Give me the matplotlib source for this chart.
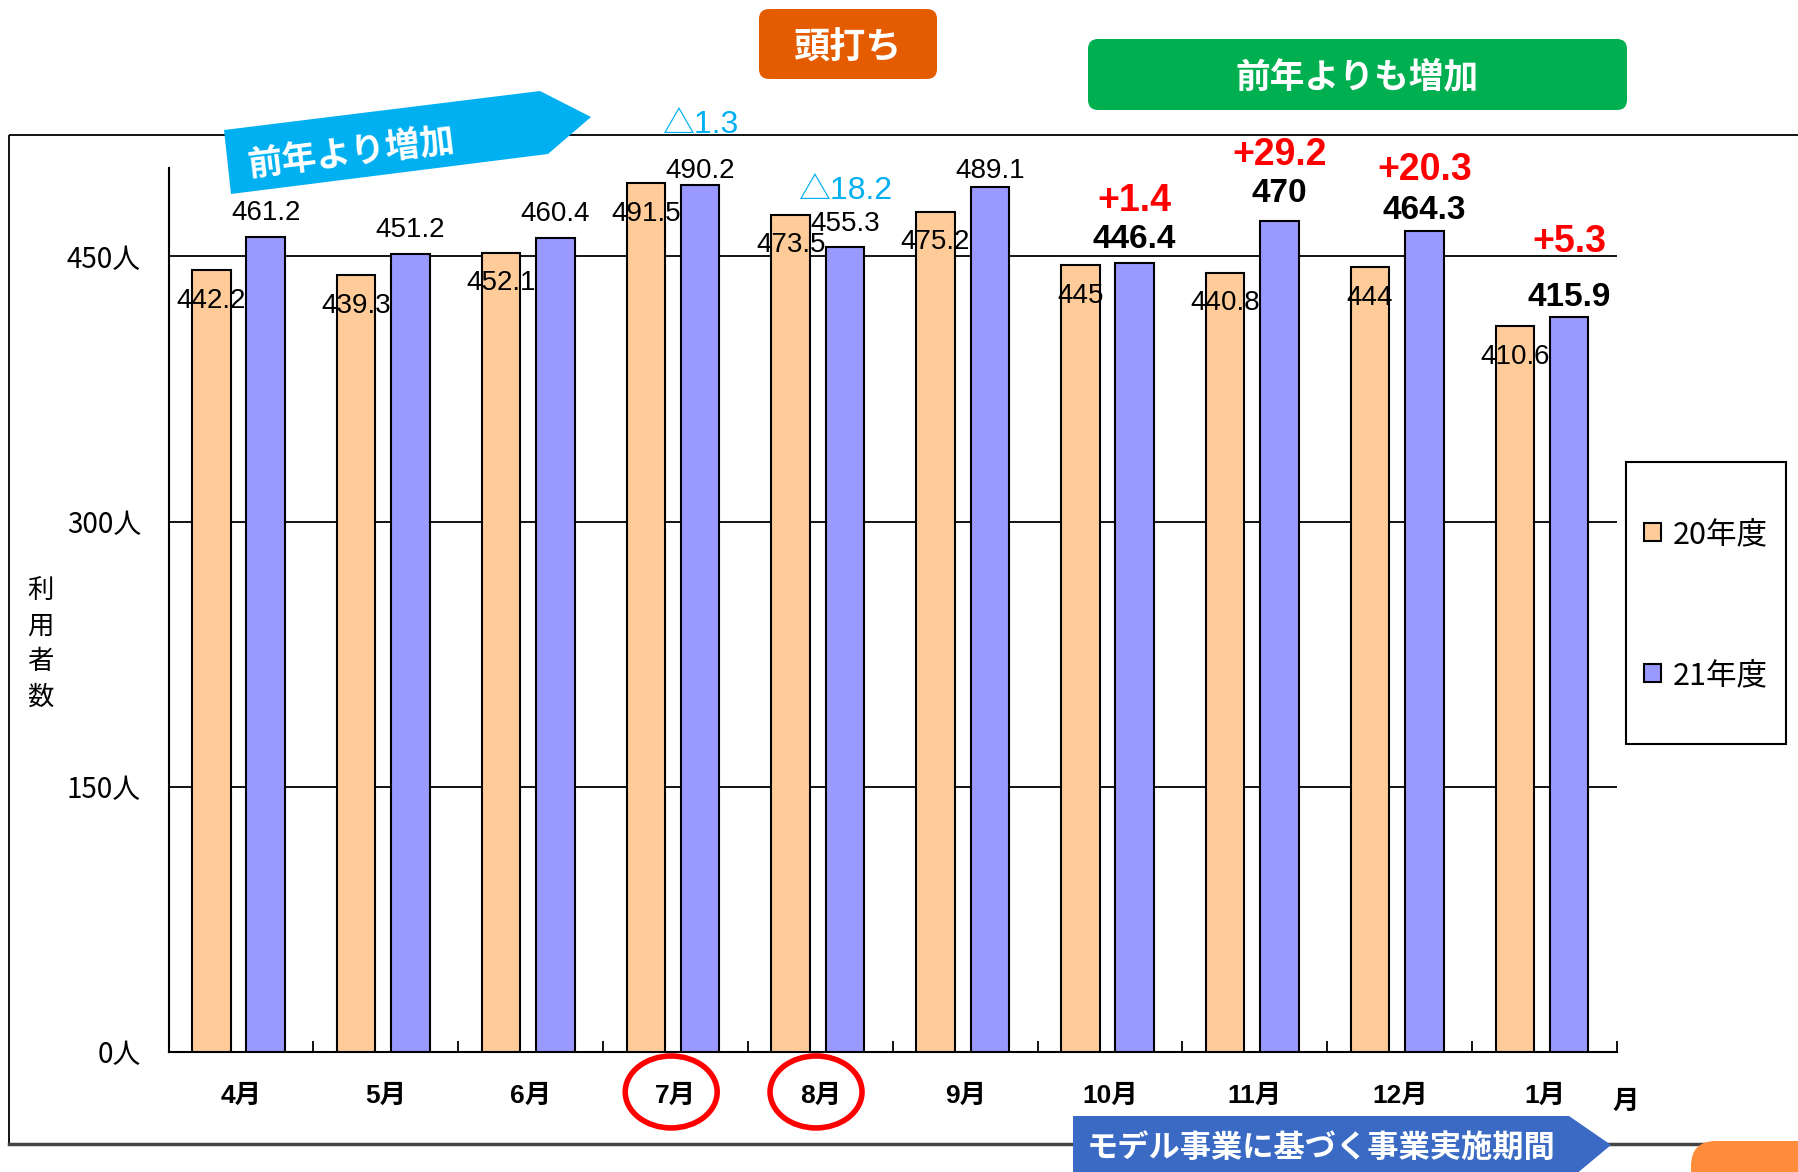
import numpy as np
import matplotlib
matplotlib.use('Agg')
import matplotlib.pyplot as plt
from matplotlib.patches import Rectangle, Polygon, FancyBboxPatch, Ellipse

# data
months = ['4月', '5月', '6月', '7月', '8月', '9月', '10月', '11月', '12月', '1月']
fy20 = [442.2, 439.3, 452.1, 491.5, 473.5, 475.2, 445, 440.8, 444, 410.6]
fy21 = [461.2, 451.2, 460.4, 490.2, 455.3, 489.1, 446.4, 470, 464.3, 415.9]
diff_text = ['', '', '', '△1.3', '△18.2', '', '+1.4', '+29.2', '+20.3', '+5.3']
bold21 = [False] * 6 + [True] * 4
yticks = [0, 150, 300, 450]
ytick_labels = ['0人', '150人', '300人', '450人']
series_names = ['20年度', '21年度']
circled = ['7月', '8月']

# label offsets above the 21年度 bars (points), as placed in the original
lab21_dy = [16.7, 17.5, 17.5, 10, 16.7, 11.7, 16.4, 20.1, 15, 13.9]
diff_dy = [0, 0, 0, 43.7, 40.4, 0, 44.5, 47.8, 43.7, 53.6]

W, H = 1798, 1172
NUM = ['Liberation Sans', 'Noto Sans CJK JP']
JP = ['Noto Sans CJK JP', 'DejaVu Sans']
plt.rcParams['font.family'] = JP

fig = plt.figure(figsize=(W / 100, H / 100), dpi=100)
ax = fig.add_axes([168.6 / W, 1 - 1052 / H, (1617 - 168.6) / W, (1052 - 168) / H])

x = np.arange(len(months))
bw = 0.265
b20 = ax.bar(x - 0.205, fy20, bw, color='#FFCC99', edgecolor='black', linewidth=1.5, zorder=3)
b21 = ax.bar(x + 0.17, fy21, bw, color='#9999FF', edgecolor='black', linewidth=1.5, zorder=3)

for i, v in enumerate(fy20):
    ax.annotate(f'{v:g}', (x[i] - 0.205, v), xytext=(0, -22), textcoords='offset points',
                ha='center', va='center', fontsize=20, family=NUM, zorder=5)
for i, v in enumerate(fy21):
    ax.annotate(f'{v:g}', (x[i] + 0.17, v), xytext=(0, lab21_dy[i]), textcoords='offset points',
                ha='center', va='center', fontsize=24 if bold21[i] else 20,
                fontweight='bold' if bold21[i] else 'normal', family=NUM, zorder=5)
for i, t in enumerate(diff_text):
    if not t:
        continue
    red = t.startswith('+')
    ax.annotate(t, (x[i] + 0.17, fy21[i]), xytext=(0, diff_dy[i]), textcoords='offset points',
                ha='center', va='center', fontsize=27 if red else 23,
                fontweight='bold' if red else 'normal', color='red' if red else '#00B0F0',
                family=NUM, annotation_clip=False)

ax.set_xlim(-0.5, len(months) - 0.5)
ax.set_ylim(0, 500)
ax.set_yticks(yticks)
ax.set_yticklabels(ytick_labels, fontsize=20)
ax.tick_params(axis='y', length=0, pad=20)
ax.yaxis.grid(True, color='black', linewidth=1.3, zorder=1)
ax.set_axisbelow(True)

ax.set_xticks(np.arange(len(months) + 1) - 0.5)
ax.set_xticklabels([])
ax.tick_params(axis='x', which='major', direction='in', length=8, width=1.3)
ax.set_xticks(x, minor=True)
ax.set_xticklabels(months, minor=True, fontsize=19, family=NUM, fontweight='bold')
ax.tick_params(axis='x', which='minor', length=0, pad=23)

for s in ['top', 'right']:
    ax.spines[s].set_visible(False)
for s in ['left', 'bottom']:
    ax.spines[s].set_linewidth(1.5)

for m in circled:
    i = months.index(m)
    ax.add_patch(Ellipse((i - 0.03, -22.6), 0.635, 40.7, fill=False, edgecolor='red',
                         linewidth=4, clip_on=False))

ax.legend([b20, b21], series_names, loc='center', bbox_to_anchor=(1706 / W, 1 - 605 / H),
          bbox_transform=fig.transFigure, frameon=False, fontsize=22, labelspacing=3.6,
          handlelength=0.55, handleheight=0.55, handletextpad=0.4)

fig.text(1626 / W, 1 - 1102 / H, '月', ha='center', va='center', fontsize=19,
         family=NUM, fontweight='bold')
fig.text(40 / W, 1 - 644 / H, '利\n用\n者\n数', ha='center', va='center', fontsize=19,
         linespacing=1.42)

# overlay in pixel coordinates for frame, boxes and arrows
ov = fig.add_axes([0, 0, 1, 1], facecolor='none')
ov.set_xlim(0, W)
ov.set_ylim(H, 0)
ov.axis('off')

ov.add_patch(Rectangle((9, 135), 1830, 1009, fill=False, edgecolor='black', linewidth=1.3))
ov.plot([9, W], [1144, 1144], color='#444444', linewidth=2.5)
ov.add_patch(Rectangle((1626, 462), 160, 282, fill=False, edgecolor='black', linewidth=1.5))

ov.add_patch(FancyBboxPatch((759, 9), 178, 70, boxstyle='round,pad=0,rounding_size=10',
                            fc='#E55B00', ec='none'))
ov.text(848, 48, '頭打ち', color='white', fontsize=26, fontweight='bold', ha='center', va='center')

ov.add_patch(FancyBboxPatch((1088, 39), 539, 71, boxstyle='round,pad=0,rounding_size=10',
                            fc='#00B050', ec='none'))
ov.text(1357, 77, '前年よりも増加', color='white', fontsize=25, fontweight='bold',
        ha='center', va='center')

ov.add_patch(Polygon([(224, 130), (540, 91), (591, 117), (548, 154), (231, 194)],
                     closed=True, fc='#00B0F0', ec='none', zorder=4))
ov.text(351, 152, '前年より増加', color='white', fontsize=25, fontweight='bold',
        ha='center', va='center', rotation=7, zorder=5)

ov.add_patch(Polygon([(1073, 1116), (1569, 1116), (1611, 1145), (1569, 1180), (1073, 1180)],
                     closed=True, fc='#3A6AC4', ec='none', zorder=4))
ov.text(1321, 1148, 'モデル事業に基づく事業実施期間', color='white', fontsize=22.5,
        fontweight='bold', ha='center', va='center', zorder=5)

ov.add_patch(FancyBboxPatch((1691, 1141), 160, 80, boxstyle='round,pad=0,rounding_size=25',
                            fc='#FF8C3B', ec='none', zorder=4))

fig.savefig('out.png', dpi=100)
